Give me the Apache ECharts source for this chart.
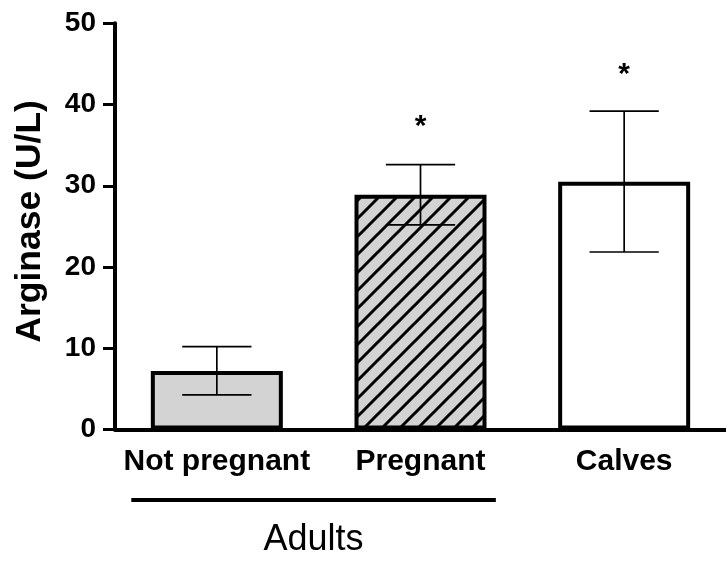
<!DOCTYPE html>
<html><head><meta charset="utf-8">
<script src="https://cdn.jsdelivr.net/npm/echarts@6/dist/echarts.min.js"></script>
<style>html,body{margin:0;padding:0;background:#fff}#c{width:726px;height:561px}</style>
</head><body><div id="c"></div>
<script>
// ---- data ----
const categories = ['Not pregnant', 'Pregnant', 'Calves'];
const meanValues = [7.2, 28.9, 30.5];
const errLow = [4.25, 25.2, 21.85];
const errHigh = [10.2, 32.6, 39.2];
const sigMarkY = [null, 37.7, 44.2];
const sigMarkText = ['', '*', '*'];
const yMin = 0, yMax = 50, yStep = 10;
const groupLabel = 'Adults';
const groupFrom = 0, groupTo = 1;

// ---- styles ----
const FONT = '"Liberation Sans", Arial, Helvetica, sans-serif';
const GRAY = '#d3d3d3';

function hatchPattern() {
  const s = 18;
  const c = document.createElement('canvas');
  c.width = s; c.height = s;
  const g = c.getContext('2d');
  g.fillStyle = GRAY; g.fillRect(0, 0, s, s);
  g.strokeStyle = '#000'; g.lineWidth = 3;
  g.beginPath();
  for (const k of [0, 1, 2]) {
    g.moveTo(-3, k * s + 3);
    g.lineTo(s + 3, k * s - s - 3);
  }
  g.stroke();
  return { image: c, repeat: 'repeat' };
}
const fills = [GRAY, hatchPattern(), '#ffffff'];

const chart = echarts.init(document.getElementById('c'), null, { renderer: 'canvas' });
chart.setOption({
  animation: false,
  backgroundColor: '#fff',
  grid: { left: 115, right: 0, top: 23.3, bottom: 131.5, containLabel: false },
  xAxis: {
    type: 'category',
    data: categories,
    axisLine: { lineStyle: { color: '#000', width: 4 } },
    axisTick: { alignWithLabel: true, length: 12, lineStyle: { color: '#000', width: 3 } },
    axisLabel: { color: '#000', fontFamily: FONT, fontWeight: 'bold', fontSize: 30, margin: 17, interval: 0 }
  },
  yAxis: {
    type: 'value', min: yMin, max: yMax, interval: yStep,
    name: 'Arginase (U/L)', nameLocation: 'middle', nameGap: 67,
    nameTextStyle: { color: '#000', fontFamily: FONT, fontWeight: 'bold', fontSize: 35.5, lineHeight: 35, padding: [0, 0, 0, 10] },
    axisLine: { show: true, lineStyle: { color: '#000', width: 4 } },
    axisTick: { show: true, length: 12, lineStyle: { color: '#000', width: 3 } },
    splitLine: { show: false },
    axisLabel: { color: '#000', fontFamily: FONT, fontWeight: 'bold', fontSize: 28, margin: 19 }
  },
  series: [
    {
      type: 'bar',
      barWidth: 132,
      data: meanValues.map((v, i) => ({ value: v, itemStyle: { color: fills[i] } })),
      itemStyle: { borderColor: '#000', borderWidth: 4 },
      z: 2
    },
    {
      type: 'custom',
      z: 3,
      data: categories.map((c, i) => [i, errLow[i], errHigh[i]]),
      renderItem(params, api) {
        const x = api.value(0);
        const lo = api.coord([x, api.value(1)]);
        const hi = api.coord([x, api.value(2)]);
        const half = api.size([1, 0])[0] * 0.17;
        const st = { stroke: '#000', lineWidth: 1.7 };
        return { type: 'group', children: [
          { type: 'line', shape: { x1: lo[0], y1: lo[1], x2: hi[0], y2: hi[1] }, style: st },
          { type: 'line', shape: { x1: lo[0] - half, y1: lo[1], x2: lo[0] + half, y2: lo[1] }, style: st },
          { type: 'line', shape: { x1: hi[0] - half, y1: hi[1], x2: hi[0] + half, y2: hi[1] }, style: st }
        ]};
      }
    },
    {
      type: 'custom',
      z: 4,
      data: categories.map((c, i) => [i, sigMarkY[i] == null ? 0 : sigMarkY[i], sigMarkText[i]]).filter((d, i) => sigMarkY[i] != null),
      renderItem(params, api) {
        const p = api.coord([api.value(0), api.value(1)]);
        return { type: 'text', x: p[0], y: p[1] + 4, style: {
          text: '*', fill: '#000', font: 'bold 30px ' + FONT, textAlign: 'center', textVerticalAlign: 'middle' } };
      }
    },
    {
      type: 'custom',
      z: 4,
      clip: false,
      data: [[groupFrom, 0, groupTo]],
      renderItem(params, api) {
        const band = api.size([1, 0])[0];
        const base = api.coord([api.value(0), 0]);
        const end = api.coord([api.value(2), 0]);
        const x0 = base[0] - band * 0.42;
        const x1 = end[0] + band * 0.37;
        const y = base[1] + 70.5;
        return { type: 'group', children: [
          { type: 'line', shape: { x1: x0, y1: y, x2: x1, y2: y }, style: { stroke: '#000', lineWidth: 4 } },
          { type: 'text', x: (x0 + x1) / 2, y: y + 40, style: { text: groupLabel, fill: '#000', font: '36px ' + FONT, textAlign: 'center', textVerticalAlign: 'middle' } }
        ]};
      }
    }
  ]
});
</script>
</body></html>
